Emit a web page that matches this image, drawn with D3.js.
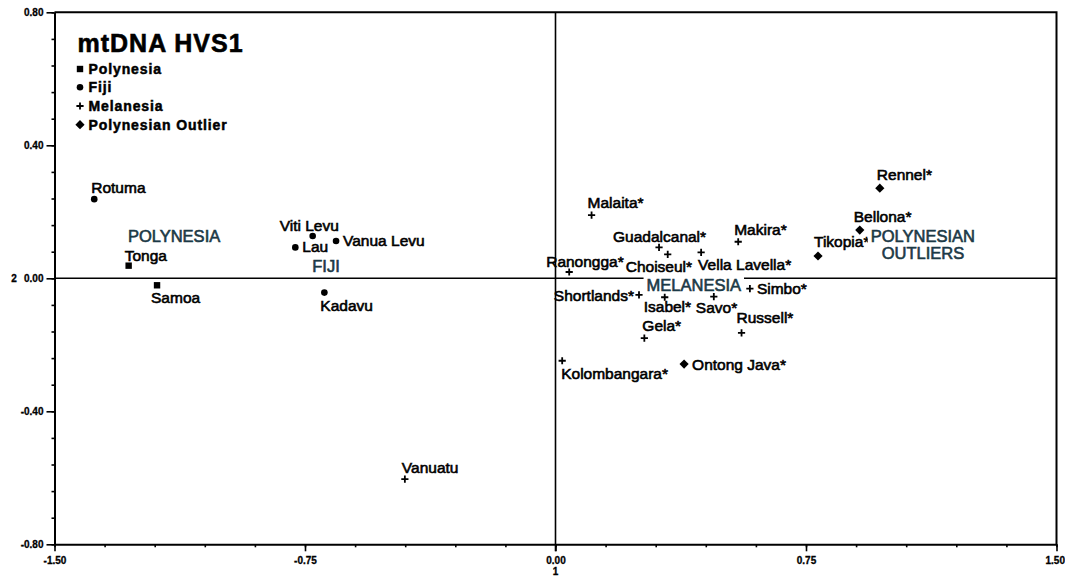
<!DOCTYPE html>
<html><head><meta charset="utf-8">
<script src="https://cdnjs.cloudflare.com/ajax/libs/d3/7.8.5/d3.min.js"></script>
<style>
html,body{margin:0;padding:0;background:#fff;}
svg{display:block;font-family:"Liberation Sans",Arial,sans-serif;}
</style></head>
<body><svg id="chart" width="1065" height="576"></svg>
<script>
// ---------- data ----------
const polynesiaNames = ["Tonga", "Samoa"];
const polynesiaX = [-1.278, -1.193];
const polynesiaY = [0.038, -0.021];

const fijiNames = ["Rotuma", "Viti Levu", "Lau", "Vanua Levu", "Kadavu"];
const fijiX = [-1.381, -0.727, -0.779, -0.657, -0.692];
const fijiY = [0.238, 0.127, 0.093, 0.112, -0.043];

const melanesiaNames = ["Malaita*", "Guadalcanal*", "Choiseul*", "Vella Lavella*", "Makira*", "Ranongga*",
  "Shortlands*", "Isabel*", "Savo*", "Simbo*", "Russell*", "Gela*", "Kolombangara*", "Vanuatu"];
const melanesiaX = [0.108, 0.310, 0.336, 0.436, 0.547, 0.041, 0.250, 0.327, 0.474, 0.582, 0.557, 0.266, 0.020, -0.451];
const melanesiaY = [0.190, 0.093, 0.072, 0.078, 0.110, 0.019, -0.050, -0.057, -0.055, -0.031, -0.164, -0.180, -0.248, -0.604];

const outlierNames = ["Ontong Java*", "Rennel*", "Bellona*", "Tikopia*"];
const outlierX = [0.385, 0.971, 0.911, 0.786];
const outlierY = [-0.258, 0.271, 0.145, 0.067];

const legendLabels = ["Polynesia", "Fiji", "Melanesia", "Polynesian Outlier"];
const groupLabels = ["POLYNESIA", "FIJI", "MELANESIA", "POLYNESIAN OUTLIERS"];
const titleText = "mtDNA HVS1";
const xTickLabels = ["-1.50", "-0.75", "0.00", "0.75", "1.50"];
const yTickLabels = ["-0.80", "-0.40", "0.00", "0.40", "0.80"];
const xAxisTitle = "1";
const yAxisTitle = "2";

// ---------- layout (label placement, pixels relative to marker) ----------
const labelOffsets = {
  "Tonga": [-4, -5], "Samoa": [-6, 18],
  "Rotuma": [-3, -6], "Viti Levu": [-33, -5], "Lau": [7, 5], "Vanua Levu": [7, 5], "Kadavu": [-4, 18],
  "Malaita*": [-4, -7], "Guadalcanal*": [-46, -5], "Choiseul*": [-42, 18], "Vella Lavella*": [-3, 18],
  "Makira*": [-4, -7], "Ranongga*": [-23, -5], "Shortlands*": [-5, 6, "end"], "Isabel*": [-21, 15],
  "Savo*": [-18, 16], "Simbo*": [7, 5], "Russell*": [-5, -10], "Gela*": [-2, -7],
  "Kolombangara*": [-1, 18], "Vanuatu": [-3, -6],
  "Ontong Java*": [8, 6], "Rennel*": [-3, -8], "Bellona*": [-6, -8], "Tikopia*": [-4, -9]
};
// group label anchors in data units: [centre x, baseline y]
const groupLabelAnchors = [[-1.142, 0.110], [-0.687, 0.020], [0.414, -0.037], [1.100, 0.110]];

// ---------- drawing ----------
const svg = d3.select("#chart");
const x = d3.scaleLinear().domain([-1.5, 1.5]).range([54.5, 1056.5]);
const y = d3.scaleLinear().domain([-0.8, 0.8]).range([544.3, 12.3]);

const ink = "#000";
const teal = "#1b3946";

// zero lines
svg.append("line").attr("x1", x(-1.5)).attr("x2", x(1.5)).attr("y1", y(0)).attr("y2", y(0))
  .attr("stroke", ink).attr("stroke-width", 1.6);
svg.append("line").attr("x1", x(0)).attr("x2", x(0)).attr("y1", y(0.8)).attr("y2", y(-0.8) + 7)
  .attr("stroke", ink).attr("stroke-width", 1.6);

// frame top/right
svg.append("path")
  .attr("d", `M${x(-1.5)},${y(0.8)}H${x(1.5)}V${y(-0.8)}`)
  .attr("fill", "none").attr("stroke", ink).attr("stroke-width", 2);

// axes
const xMinor = d3.range(-1.5, 1.5001, 0.15).map(v => +v.toFixed(2));
const xMajor = xTickLabels.map(Number);
const yMinor = d3.range(-0.8, 0.8001, 0.08).map(v => +v.toFixed(2));
const yMajor = yTickLabels.map(Number);

function styleAxis(g) {
  g.select(".domain").attr("stroke", ink).attr("stroke-width", 2);
  g.selectAll(".tick line").attr("stroke", ink).attr("stroke-width", 1.6);
  g.selectAll("text").attr("font-family", "Liberation Sans, Arial, sans-serif")
    .attr("font-weight", "bold").attr("font-size", 10).attr("fill", ink)
    .attr("stroke", ink).attr("stroke-width", 0.3);
}

const gxMinor = svg.append("g").attr("transform", `translate(0,${y(-0.8)})`)
  .call(d3.axisBottom(x).tickValues(xMinor).tickSize(3).tickFormat("").tickSizeOuter(0));
styleAxis(gxMinor);
const gxMajor = svg.append("g").attr("transform", `translate(0,${y(-0.8)})`)
  .call(d3.axisBottom(x).tickValues(xMajor).tickSize(7).tickPadding(6)
    .tickFormat((d, i) => xTickLabels[i]).tickSizeOuter(0));
styleAxis(gxMajor);
gxMajor.select(".domain").remove();
// last label sits flush with the right edge of the picture
gxMajor.selectAll(".tick").filter(d => d === 1.5).select("text").attr("text-anchor", "end").attr("x", 8);

const gyMinor = svg.append("g").attr("transform", `translate(${x(-1.5)},0)`)
  .call(d3.axisLeft(y).tickValues(yMinor).tickSize(3).tickFormat("").tickSizeOuter(0));
styleAxis(gyMinor);
const gyMajor = svg.append("g").attr("transform", `translate(${x(-1.5)},0)`)
  .call(d3.axisLeft(y).tickValues(yMajor).tickSize(8).tickPadding(3)
    .tickFormat((d, i) => yTickLabels[i]).tickSizeOuter(0));
styleAxis(gyMajor);
gyMajor.select(".domain").remove();

// axis titles
svg.append("text").attr("x", 14).attr("y", y(0)).attr("dy", "0.36em")
  .attr("text-anchor", "middle").attr("font-weight", "bold").attr("font-size", 10)
  .attr("stroke", ink).attr("stroke-width", 0.3).text(yAxisTitle);
svg.append("text").attr("x", x(0)).attr("y", 575)
  .attr("text-anchor", "middle").attr("font-weight", "bold").attr("font-size", 10)
  .attr("stroke", ink).attr("stroke-width", 0.3).text(xAxisTitle);

// marker shapes
function drawMarker(g, kind, cx, cy) {
  if (kind === "square") {
    g.append("rect").attr("x", cx - 3.2).attr("y", cy - 3.2).attr("width", 6.4).attr("height", 6.4).attr("fill", ink);
  } else if (kind === "circle") {
    g.append("circle").attr("cx", cx).attr("cy", cy).attr("r", 3.3).attr("fill", ink);
  } else if (kind === "plus") {
    g.append("path").attr("d", `M${cx - 3.6},${cy}H${cx + 3.6}M${cx},${cy - 3.6}V${cy + 3.6}`)
      .attr("stroke", ink).attr("stroke-width", 1.8).attr("fill", "none");
  } else {
    g.append("path").attr("d", `M${cx},${cy - 4.6}L${cx + 4.6},${cy}L${cx},${cy + 4.6}L${cx - 4.6},${cy}Z`).attr("fill", ink);
  }
}

const groups = [
  { kind: "square", names: polynesiaNames, xs: polynesiaX, ys: polynesiaY },
  { kind: "circle", names: fijiNames, xs: fijiX, ys: fijiY },
  { kind: "plus", names: melanesiaNames, xs: melanesiaX, ys: melanesiaY },
  { kind: "diamond", names: outlierNames, xs: outlierX, ys: outlierY }
];

const markG = svg.append("g");
const labG = svg.append("g");
groups.forEach(gr => {
  gr.names.forEach((name, i) => {
    const cx = x(gr.xs[i]), cy = y(gr.ys[i]);
    drawMarker(markG, gr.kind, cx, cy);
    const off = labelOffsets[name] || [5, -5];
    labG.append("text").attr("x", cx + off[0]).attr("y", cy + off[1])
      .attr("text-anchor", off[2] || "start")
      .attr("font-size", 15.5).attr("fill", ink)
      .attr("stroke", ink).attr("stroke-width", 0.6)
      .text(name);
  });
});

// group labels (white background)
const gl = svg.append("g");
groupLabels.forEach((lab, i) => {
  const [ax, ay] = groupLabelAnchors[i];
  const words = lab === "POLYNESIAN OUTLIERS" ? ["POLYNESIAN", "OUTLIERS"] : [lab];
  const t = gl.append("text").attr("text-anchor", "middle").attr("font-size", 16.5)
    .attr("fill", teal).attr("stroke", teal).attr("stroke-width", 0.6);
  words.forEach((w, j) => {
    t.append("tspan").attr("x", x(ax)).attr("y", y(ay) + j * 17.6).text(w);
  });
  const bb = t.node().getBBox();
  gl.insert("rect", () => t.node())
    .attr("x", bb.x - 3).attr("y", bb.y + 1).attr("width", bb.width + 6).attr("height", bb.height - 2)
    .attr("fill", "#fff");
});

// title & legend
svg.append("text").attr("x", 77.5).attr("y", 52.3).attr("font-weight", "bold")
  .attr("font-size", 25).attr("letter-spacing", 1).attr("fill", ink)
  .attr("stroke", ink).attr("stroke-width", 0.6).text(titleText);
const legendKinds = ["square", "circle", "plus", "diamond"];
const legendBase = [74, 92.3, 111, 129.7];
legendLabels.forEach((lab, i) => {
  drawMarker(svg, legendKinds[i], 80, legendBase[i] - 5);
  svg.append("text").attr("x", 88.5).attr("y", legendBase[i]).attr("font-weight", "bold")
    .attr("font-size", 14).attr("letter-spacing", 0.9).attr("fill", ink)
    .attr("stroke", ink).attr("stroke-width", 0.5).text(lab);
});
</script>
</body></html>
